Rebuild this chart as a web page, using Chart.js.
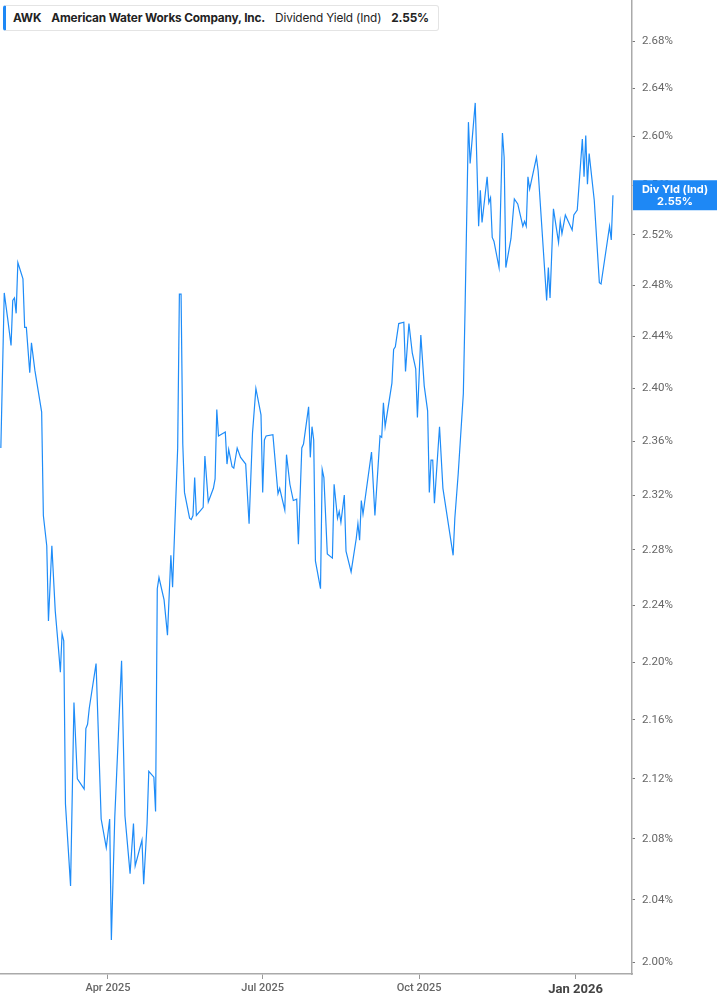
<!DOCTYPE html>
<html>
<head>
<meta charset="utf-8">
<script src="https://cdn.jsdelivr.net/npm/chart.js@4.4.1/dist/chart.umd.min.js"></script>
<style>
html,body{margin:0;padding:0;background:#fff;}
#wrap{position:relative;width:717px;height:1005px;}
#legend{position:absolute;left:3px;top:5px;width:436px;height:26px;box-sizing:border-box;
  border:1px solid #e4e4e4;border-left:3px solid #1e88f5;border-radius:3px;background:#fff;
  font-family:Inter,"Noto Sans",sans-serif;font-size:11.8px;color:#222;line-height:24px;
  white-space:nowrap;padding-left:7px;letter-spacing:-0.15px;}
#legend b{font-weight:700;}
#legend span{margin-right:10px;}
</style>
</head>
<body>
<div id="wrap">
<canvas id="c" width="717" height="1005"></canvas>
<div id="legend"><span><b>AWK</b></span><span><b>American Water Works Company, Inc.</b></span><span>Dividend Yield (Ind)</span><span><b>2.55%</b></span></div>
</div>
<script>
const dates = [
'2025-01-28','2025-01-30','2025-02-01','2025-02-03','2025-02-04','2025-02-05','2025-02-06','2025-02-07','2025-02-10','2025-02-11',
'2025-02-12','2025-02-14','2025-02-15','2025-02-17','2025-02-19','2025-02-21','2025-02-22','2025-02-24','2025-02-25','2025-02-27',
'2025-03-01','2025-03-03','2025-03-04','2025-03-05','2025-03-06','2025-03-07','2025-03-10','2025-03-12','2025-03-14','2025-03-18',
'2025-03-19','2025-03-20','2025-03-21','2025-03-25','2025-03-28','2025-03-31','2025-04-02','2025-04-03','2025-04-05','2025-04-09',
'2025-04-11','2025-04-14','2025-04-16','2025-04-17','2025-04-21','2025-04-22','2025-04-24','2025-04-25','2025-04-28','2025-04-29',
'2025-04-30','2025-05-01','2025-05-04','2025-05-06','2025-05-08','2025-05-09','2025-05-12','2025-05-13','2025-05-14','2025-05-15',
'2025-05-16','2025-05-19','2025-05-20','2025-05-21','2025-05-22','2025-05-23','2025-05-27','2025-05-28','2025-05-30','2025-06-02',
'2025-06-03','2025-06-04','2025-06-05','2025-06-09','2025-06-10','2025-06-11','2025-06-13','2025-06-14','2025-06-16','2025-06-18',
'2025-06-21','2025-06-23','2025-06-25','2025-06-27','2025-06-30','2025-07-01','2025-07-02','2025-07-03','2025-07-07','2025-07-10',
'2025-07-11','2025-07-14','2025-07-15','2025-07-17','2025-07-19','2025-07-21','2025-07-22','2025-07-24','2025-07-25','2025-07-28',
'2025-07-29','2025-07-30','2025-07-31','2025-08-01','2025-08-04','2025-08-05','2025-08-06','2025-08-08','2025-08-11','2025-08-12',
'2025-08-14','2025-08-15','2025-08-16','2025-08-18','2025-08-19','2025-08-22','2025-08-25','2025-08-26','2025-08-27','2025-08-28',
'2025-08-29','2025-09-03','2025-09-05','2025-09-08','2025-09-09','2025-09-10','2025-09-11','2025-09-15','2025-09-16','2025-09-17',
'2025-09-19','2025-09-22','2025-09-23','2025-09-25','2025-09-27','2025-09-29','2025-09-30','2025-10-02','2025-10-04','2025-10-06',
'2025-10-07','2025-10-08','2025-10-09','2025-10-10','2025-10-13','2025-10-15','2025-10-21','2025-10-22','2025-10-24','2025-10-27',
'2025-10-28','2025-10-30','2025-10-31','2025-11-03','2025-11-05','2025-11-06','2025-11-07','2025-11-10','2025-11-11','2025-11-12',
'2025-11-13','2025-11-14','2025-11-17','2025-11-19','2025-11-20','2025-11-21','2025-11-24','2025-11-26','2025-11-28','2025-12-01',
'2025-12-02','2025-12-03','2025-12-04','2025-12-05','2025-12-09','2025-12-10','2025-12-15','2025-12-16','2025-12-17','2025-12-19',
'2025-12-22','2025-12-23','2025-12-24','2025-12-26','2025-12-30','2025-12-31','2026-01-02','2026-01-05','2026-01-06','2026-01-07',
'2026-01-08','2026-01-09','2026-01-12','2026-01-15','2026-01-16','2026-01-21','2026-01-22','2026-01-23'
];
const yields = [
2.355,2.474,2.454,2.433,2.468,2.470,2.458,2.498,2.485,2.447,
2.447,2.412,2.435,2.414,2.398,2.382,2.305,2.283,2.229,2.283,
2.236,2.208,2.193,2.220,2.215,2.103,2.049,2.172,2.120,2.113,
2.154,2.157,2.168,2.199,2.093,2.074,2.093,2.014,2.094,2.201,
2.095,2.057,2.090,2.062,2.079,2.050,2.090,2.125,2.121,2.098,
2.252,2.260,2.244,2.219,2.276,2.253,2.355,2.473,2.473,2.358,
2.322,2.303,2.302,2.305,2.333,2.305,2.311,2.349,2.315,2.325,
2.332,2.384,2.364,2.367,2.343,2.354,2.341,2.340,2.355,2.348,
2.343,2.299,2.366,2.400,2.380,2.322,2.361,2.364,2.365,2.321,
2.325,2.309,2.350,2.328,2.316,2.317,2.284,2.355,2.358,2.386,
2.348,2.371,2.361,2.272,2.252,2.339,2.333,2.277,2.274,2.328,
2.303,2.308,2.300,2.320,2.279,2.264,2.288,2.299,2.287,2.316,
2.306,2.352,2.305,2.364,2.363,2.389,2.371,2.404,2.430,2.432,
2.450,2.451,2.413,2.450,2.427,2.415,2.378,2.441,2.402,2.383,
2.322,2.346,2.346,2.314,2.371,2.325,2.276,2.303,2.336,2.396,
2.460,2.612,2.578,2.628,2.527,2.556,2.530,2.567,2.546,2.550,
2.518,2.515,2.494,2.603,2.583,2.494,2.517,2.549,2.545,2.527,
2.531,2.527,2.567,2.557,2.583,2.572,2.468,2.494,2.470,2.541,
2.514,2.531,2.521,2.536,2.524,2.536,2.540,2.598,2.567,2.601,
2.561,2.586,2.548,2.482,2.481,2.527,2.516,2.552
];
const yTickValues = [2.00,2.04,2.08,2.12,2.16,2.20,2.24,2.28,2.32,2.36,2.40,2.44,2.48,2.52,2.56,2.60,2.64,2.68];
const xTickDates = ['2025-04-01','2025-07-01','2025-10-01','2026-01-01'];
const xTickLabels = ['Apr 2025','Jul 2025','Oct 2025','Jan 2026'];
const seriesLabel = 'Div Yld (Ind)';

const dayNum = d => Date.parse(d) / 86400000;
const points = dates.map((d, i) => ({x: dayNum(d), y: yields[i]}));
const xMin = dayNum('2025-01-27') + 0.5;
const xMax = dayNum('2026-02-03') + 0.2;
const boldTick = dayNum('2026-01-01');

const valueTag = {
  id: 'valueTag',
  afterDraw(chart) {
    const ctx = chart.ctx;
    const last = yields[yields.length - 1];
    const y = chart.scales.y.getPixelForValue(last);
    const x0 = chart.chartArea.right + 1;
    const w = chart.width - x0;
    ctx.save();
    ctx.fillStyle = '#1e88f5';
    ctx.fillRect(x0, y - 15, w, 30);
    ctx.fillStyle = '#fff';
    ctx.font = 'bold 11px Inter, "Noto Sans", sans-serif';
    ctx.textAlign = 'center';
    ctx.textBaseline = 'middle';
    ctx.fillText(seriesLabel, x0 + w / 2, y - 6);
    ctx.fillText(last.toFixed(2) + '%', x0 + w / 2, y + 6);
    ctx.restore();
  }
};

new Chart(document.getElementById('c'), {
  type: 'line',
  data: {
    datasets: [{
      label: seriesLabel,
      data: points,
      borderColor: '#1e8cf8',
      borderWidth: 1.2,
      pointRadius: 0,
      tension: 0,
      fill: false
    }]
  },
  options: {
    responsive: false,
    animation: false,
    layout: {padding: 0},
    plugins: {legend: {display: false}, tooltip: {enabled: false}},
    scales: {
      x: {
        type: 'linear',
        min: xMin,
        max: xMax,
        grid: {drawOnChartArea: false, drawTicks: true, tickLength: 5, tickColor: '#999'},
        border: {display: true, color: '#aaa', width: 1.5},
        afterBuildTicks: s => { s.ticks = xTickDates.map(d => ({value: dayNum(d)})); },
        afterFit: s => { s.height = 31; s.paddingLeft = 0; s.paddingRight = 0; },
        ticks: {
          autoSkip: false,
          maxRotation: 0,
          padding: 3,
          callback: v => xTickLabels[xTickDates.map(dayNum).indexOf(v)],
          color: c => (c.tick && c.tick.value === boldTick) ? '#444' : '#666',
          font: c => (c.tick && c.tick.value === boldTick)
            ? {family: 'Roboto, sans-serif', size: 13, weight: 'bold'}
            : {family: 'Roboto, sans-serif', size: 11, weight: '500'}
        }
      },
      y: {
        type: 'logarithmic',
        position: 'right',
        min: 1.9924,
        max: 2.7154,
        grid: {drawOnChartArea: false, drawTicks: true, tickLength: 3, tickColor: '#777'},
        border: {display: true, color: '#aaa', width: 1.5},
        afterBuildTicks: s => { s.ticks = yTickValues.map(v => ({value: v})); },
        afterFit: s => { s.width = 85; s.paddingTop = 0; s.paddingBottom = 0; },
        ticks: {
          padding: 7,
          color: '#666',
          font: {family: 'Roboto, sans-serif', size: 11.5},
          callback: v => Number(v).toFixed(2) + '%'
        }
      }
    }
  },
  plugins: [valueTag]
});
</script>
</body>
</html>
